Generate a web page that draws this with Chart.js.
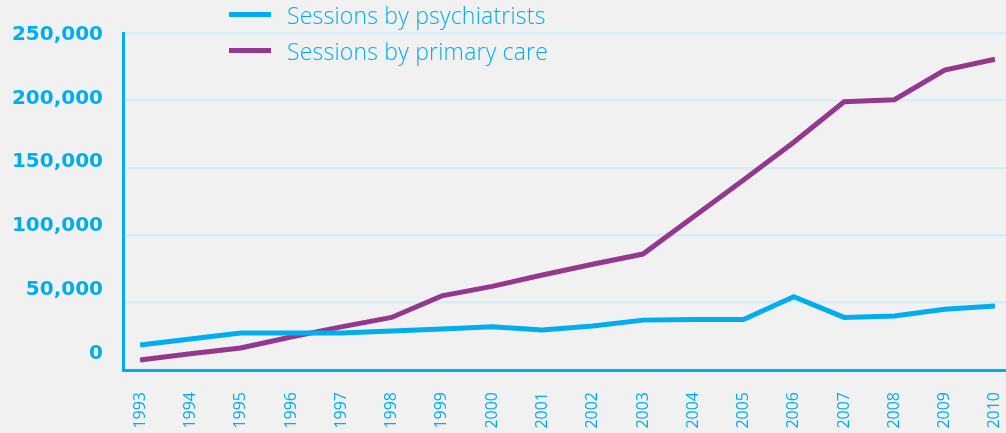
<!DOCTYPE html>
<html>
<head>
<meta charset="utf-8">
<script src="https://cdn.jsdelivr.net/npm/chart.js@4.4.0/dist/chart.umd.min.js"></script>
<style>
    html, body { margin: 0; padding: 0; background: #f1f1f1; }
    #wrap { position: relative; width: 1006px; height: 433px; }
    #legend { position: absolute; left: 229px; top: 0; font-family: 'Open Sans', sans-serif; font-weight: 300; font-size: 23px; letter-spacing: 0.2px; color: #00aeef; }
    #legend .item { position: absolute; left: 0; white-space: nowrap; height: 30px; }
    #legend .swatch { position: absolute; left: 0; width: 42px; height: 5px; }
    #legend .label { position: absolute; left: 58px; line-height: 30px; }
</style>
</head>
<body>
<div id="wrap">
    <canvas id="sessionsChart" width="1006" height="433"></canvas>
    <div id="legend"></div>
</div>
<script>
// Chart data
const years = [1993, 1994, 1995, 1996, 1997, 1998, 1999, 2000, 2001, 2002, 2003, 2004, 2005, 2006, 2007, 2008, 2009, 2010];
const psychiatrists = [18500, 23000, 27400, 27400, 27400, 29000, 30500, 32000, 29700, 32600, 37000, 37400, 37400, 54400, 39000, 40000, 45000, 47500];
const primaryCare = [7400, 12000, 16300, 24500, 32000, 39000, 55000, 62000, 70500, 78500, 86000, 113500, 141000, 169000, 199000, 200500, 222500, 230500];
const yTicks = [0, 50000, 100000, 150000, 200000, 250000];
const seriesNames = ['Sessions by psychiatrists', 'Sessions by primary care'];
const seriesColors = ['#00aeef', '#93378f'];

const blue = '#00aeef';
const gridBlue = '#d4edf9';

// no extra padding from tick labels, so the plot fills the canvas
function noPad(scale) {
    scale.paddingLeft = 0;
    scale.paddingRight = 0;
    scale.paddingTop = 0;
    scale.paddingBottom = 0;
}

// Build datasets
const datasets = [psychiatrists, primaryCare].map((values, i) => ({
    label: seriesNames[i],
    data: values.map((v, j) => ({ x: years[j], y: v })),
    borderColor: seriesColors[i],
    borderWidth: 5,
    pointRadius: 0,
    tension: 0,
    fill: false
}));

const ctx = document.getElementById('sessionsChart').getContext('2d');
const sessionsChart = new Chart(ctx, {
    type: 'line',
    data: { datasets: datasets },
    options: {
        responsive: false,
        animation: false,
        layout: { padding: { top: 33, right: 0, left: 0, bottom: 0 } },
        plugins: {
            legend: { display: false },
            tooltip: { enabled: false }
        },
        scales: {
            x: {
                type: 'linear',
                min: 1992.66,
                max: 2010.22,
                afterBuildTicks: scale => { scale.ticks = years.map(y => ({ value: y })); },
                afterFit: scale => { scale.height = 63; noPad(scale); },
                grid: { display: false },
                border: { display: true, color: blue, width: 3 },
                ticks: {
                    color: blue,
                    minRotation: 90,
                    maxRotation: 90,
                    padding: 14,
                    font: { family: 'Open Sans', size: 16, weight: 400 },
                    callback: v => String(v)
                }
            },
            // gridlines only
            y: {
                min: 0,
                max: 250000,
                position: 'left',
                afterBuildTicks: scale => { scale.ticks = yTicks.map(v => ({ value: v })); },
                afterFit: scale => { scale.width = 0; noPad(scale); },
                grid: { color: gridBlue, lineWidth: 2.5, drawTicks: false },
                border: { display: false },
                ticks: { display: false }
            },
            // labels only, spread a bit tighter than the gridlines
            yLabels: {
                min: -12900,
                max: 251200,
                position: 'left',
                afterBuildTicks: scale => { scale.ticks = yTicks.map(v => ({ value: v })); },
                afterFit: scale => { scale.width = 123; noPad(scale); },
                grid: { display: false },
                border: { display: true, color: blue, width: 3 },
                ticks: {
                    color: blue,
                    padding: 12,
                    font: { family: 'DejaVu Sans', size: 20, weight: 'bold' },
                    callback: v => v.toLocaleString('en-US')
                }
            }
        }
    }
});

// Legend stacked vertically, as in the original
const legendBox = document.getElementById('legend');
seriesNames.forEach((name, i) => {
    const item = document.createElement('div');
    item.className = 'item';
    item.style.top = (i === 0 ? 0 : 36) + 'px';
    item.innerHTML = `
        <div class="swatch" style="background:${seriesColors[i]}; top:12px;"></div>
        <div class="label">${name}</div>
    `;
    legendBox.appendChild(item);
});
</script>
</body>
</html>
